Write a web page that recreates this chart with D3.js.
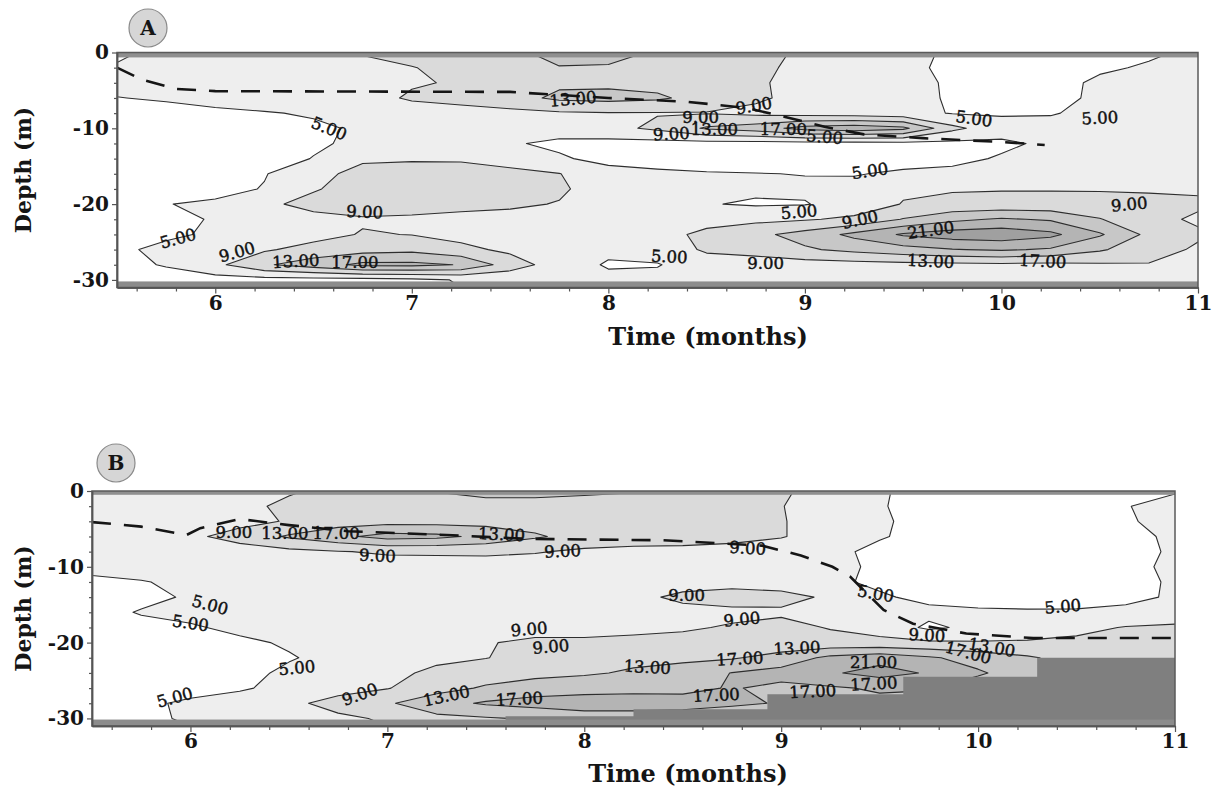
<!DOCTYPE html>
<html><head><meta charset="utf-8">
<script src="https://cdn.jsdelivr.net/npm/d3@7"></script>
<style>
body{margin:0;background:#fff;}
svg{display:block;}
</style></head><body>
<svg id="chart" width="1218" height="789"></svg>
<script>
// ---------------- DATA ----------------
const gridTimes = [5.5,5.75,6,6.25,6.5,6.75,7,7.25,7.5,7.75,8,8.25,8.5,8.75,9,9.25,9.5,9.75,10,10.25,10.5,10.75,11];
const gridDepths = [0,-2,-4,-6,-8,-10,-12,-14,-16,-18,-20,-22,-24,-26,-28,-30];
const levels = [5,9,13,17,21];

const timeTicks = [6,7,8,9,10,11];
const timeTickLabels = ["6","7","8","9","10","11"];
const depthTicks = [0,-10,-20,-30];
const depthTickLabels = ["0","-10","-20","-30"];

// Panel A value grid (rows = depths, columns = times)
const valuesA = [
 [4.0,6.5,7.0,7.5,8.0,9.2,10.0,10.5,12.0,14.5,14.5,12.5,11.0,10.0,8.5,7.0,6.0,4.5,3.5,3.5,4.0,4.6,5.5],
 [5.5,6.5,7.0,7.5,7.8,8.2,8.9,9.8,11.0,12.8,12.6,11.5,10.5,9.6,8.3,7.0,5.8,4.3,3.5,3.6,4.6,5.3,6.0],
 [6.2,6.6,7.0,7.4,7.7,8.2,8.7,9.3,10.8,12.3,12.2,11.8,11.0,9.4,8.0,7.0,6.0,4.6,3.8,4.0,5.5,6.2,6.5],
 [4.9,5.4,6.0,6.5,7.0,7.8,9.4,10.2,11.5,13.8,14.2,13.6,11.5,9.6,7.8,7.0,6.2,4.6,4.0,4.2,5.5,6.0,6.3],
 [3.8,3.8,4.4,4.8,5.3,6.2,7.4,7.6,8.0,8.5,8.8,8.8,8.8,8.0,7.2,6.8,6.2,4.8,4.6,4.8,5.8,6.0,6.2],
 [3.0,3.0,3.2,3.6,4.5,5.4,6.2,6.5,6.5,6.8,7.8,9.8,13.5,15.0,18.5,19.5,18.0,10.0,6.5,6.0,6.0,6.2,6.3],
 [3.0,3.0,3.0,3.5,4.6,5.6,6.2,6.0,5.4,4.2,3.8,3.6,3.5,3.5,3.5,3.6,3.8,4.0,4.4,5.6,6.0,6.2,6.3],
 [3.0,3.0,3.2,3.8,5.1,8.3,8.5,8.5,7.5,5.5,3.8,3.2,3.0,3.0,3.2,3.5,3.8,4.2,5.3,6.0,6.2,6.3,6.5],
 [3.0,3.0,3.5,4.8,7.5,10.5,11.0,10.8,10.0,9.1,6.5,5.8,5.3,5.1,4.9,4.8,5.5,5.8,6.0,6.2,6.3,6.4,6.5],
 [3.0,3.2,3.8,5.2,8.6,11.0,11.5,11.2,10.5,9.6,7.0,6.2,5.8,5.6,5.6,6.0,8.4,8.7,8.8,8.8,8.8,8.7,8.6],
 [3.5,4.9,5.6,8.0,10.5,11.5,11.0,10.0,9.6,8.8,6.8,6.0,5.2,4.6,4.8,6.5,9.2,10.0,10.2,10.2,10.0,9.8,9.5],
 [3.2,4.0,5.3,6.5,7.5,8.5,8.2,8.0,7.8,7.4,7.0,6.8,7.5,8.0,8.6,9.8,13.2,16.0,17.5,16.5,13.2,10.0,8.5],
 [3.2,4.3,5.6,6.5,7.5,9.3,8.9,7.8,7.5,7.0,6.8,7.5,10.0,12.0,14.5,18.0,21.5,23.0,23.5,22.0,17.5,12.0,9.5],
 [4.2,6.0,7.0,8.5,10.5,11.5,12.0,10.0,8.2,6.5,5.8,6.5,9.6,10.5,12.5,14.0,15.5,16.8,17.5,16.5,13.5,10.5,8.5],
 [3.8,5.3,8.0,12.5,15.0,18.0,18.0,16.8,11.0,7.0,4.6,4.8,7.0,7.0,7.2,7.5,7.8,8.0,8.2,8.0,8.5,8.8,7.0],
 [3.0,3.2,3.5,3.5,3.5,3.5,4.0,5.3,6.0,6.0,6.0,6.0,6.0,6.0,5.8,5.8,5.8,5.8,5.8,5.8,5.8,5.8,5.5]
];

// Panel B value grid
const valuesB = [
 [6.5,6.8,7.0,7.5,8.6,10.0,11.5,13.1,13.8,13.8,13.5,13.2,12.0,10.8,9.5,7.5,5.3,4.0,3.5,3.5,3.8,4.2,4.8],
 [6.5,6.8,7.0,8.0,9.8,10.8,11.5,11.8,12.0,12.0,11.8,11.5,11.0,10.3,9.1,7.5,5.2,4.0,3.5,3.5,3.8,4.9,5.8],
 [6.0,6.5,7.0,7.8,9.3,11.0,11.5,11.5,11.5,11.3,11.2,11.0,10.8,10.2,9.2,7.5,5.4,4.0,3.4,3.4,3.6,4.8,5.6],
 [6.2,6.8,8.2,10.5,13.5,16.0,18.5,18.0,16.0,13.5,11.5,10.8,10.5,10.0,9.2,7.5,5.2,4.2,3.4,3.4,3.5,4.2,5.5],
 [6.0,6.2,6.5,7.2,8.0,8.8,9.5,9.6,9.8,9.3,8.3,8.0,8.0,7.8,7.2,5.6,4.4,3.8,3.3,3.3,3.4,4.0,5.4],
 [5.4,5.8,6.2,6.5,6.8,7.0,7.2,7.2,7.0,6.8,6.6,6.6,6.8,7.0,6.6,5.8,4.5,3.5,3.2,3.2,3.3,4.2,5.6],
 [4.7,4.9,5.4,6.2,6.5,6.7,6.8,6.8,6.8,6.8,7.0,7.2,7.5,7.8,7.5,5.8,4.2,3.5,3.2,3.3,3.4,4.0,5.4],
 [3.8,4.3,5.3,6.0,6.3,6.5,6.6,6.7,6.8,7.0,7.3,8.0,9.8,10.5,10.0,8.5,5.5,4.0,3.5,3.5,3.6,4.2,5.4],
 [4.0,5.2,5.8,6.2,6.5,6.6,6.6,6.6,6.7,6.8,7.0,7.3,7.8,8.2,8.5,7.0,6.5,6.0,5.6,5.4,5.4,5.8,6.2],
 [3.6,4.2,4.7,5.6,6.0,6.2,6.4,6.6,7.2,7.8,8.2,8.4,8.6,9.3,10.0,8.8,7.5,4.3,6.0,6.5,8.0,9.2,9.8],
 [3.5,3.8,4.0,4.5,5.3,6.0,6.4,7.0,8.8,9.6,9.4,9.6,10.0,10.3,10.5,10.2,10.0,9.6,9.3,9.5,9.8,10.5,11.0],
 [3.5,3.6,3.8,4.0,4.8,5.8,7.0,8.2,8.9,10.2,11.0,12.0,12.0,12.6,14.5,18.0,19.5,17.5,15.5,13.5,11.5,11.0,11.0],
 [3.5,3.6,3.8,4.2,5.5,6.5,8.0,9.8,11.0,11.8,12.5,13.5,15.0,17.1,18.5,20.5,22.5,20.6,17.5,15.0,12.0,12.0,12.0],
 [3.3,3.5,3.8,4.6,6.0,7.5,8.8,11.5,13.5,15.0,15.5,15.8,16.0,17.3,16.0,16.5,17.5,17.2,15.0,14.0,12.0,12.0,12.0],
 [3.2,4.3,5.6,6.5,8.0,10.5,12.5,15.5,17.5,18.5,19.0,19.0,18.5,17.5,16.8,16.0,16.0,16.0,16.0,16.0,16.0,16.0,16.0],
 [3.0,4.5,5.3,6.0,7.0,8.2,9.5,12.0,12.6,13.5,15.0,15.0,15.0,15.0,15.0,15.0,15.0,15.0,15.0,15.0,15.0,15.0,15.0]
];

// dashed lines (time, depth)
const dashATime  = [5.5,5.63,5.8,6.0,7.5,8.0,8.4,8.7,8.9,9.1,9.3,9.6,10.0,10.22];
const dashADepth = [-2.0,-3.6,-4.8,-5.1,-5.2,-6.0,-6.5,-7.3,-8.5,-9.8,-10.8,-11.3,-11.8,-12.2];
const dashBTime  = [5.5,5.75,5.98,6.05,6.25,6.5,6.8,7.3,7.7,8.4,8.9,9.1,9.26,9.35,9.52,9.67,9.94,10.28,11.0];
const dashBDepth = [-4.1,-4.7,-5.8,-4.9,-3.7,-4.5,-5.3,-5.8,-6.3,-6.5,-7.2,-8.5,-10.0,-11.3,-15.7,-17.5,-18.8,-19.4,-19.4];

// bottom (no data) profile of panel B
const bottomBTime  = [5.5,7.6,8.25,8.93,9.62,10.3,11.0];
const bottomBDepth = [-30.2,-29.7,-28.8,-26.8,-24.5,-22.0,-22.0];

// contour labels
const labelsAText  = ["5.00","5.00","9.00","13.00","17.00","9.00","13.00","9.00","9.00","9.00","13.00","17.00","5.00","5.00","5.00","5.00","5.00","9.00","21.00","9.00","13.00","17.00","9.00","5.00"];
const labelsATime  = [6.58,5.81,6.11,6.41,6.71,6.76,7.82,8.74,8.47,8.32,8.54,8.89,9.1,9.86,10.5,9.33,8.97,9.28,9.64,10.65,9.64,10.21,8.8,8.31];
const labelsADepth = [-10.0,-24.5,-26.3,-27.5,-27.6,-21.0,-6.1,-7.0,-8.5,-10.7,-10.1,-10.1,-11.1,-8.7,-8.6,-15.6,-21.0,-22.0,-23.4,-20.0,-27.5,-27.5,-27.8,-26.9];
const labelsAAngle = [22,-15,-15,-3,0,3,-5,-10,0,-3,0,0,5,8,-3,-8,-5,-12,-8,-5,3,3,0,3];

const labelsBText  = ["9.00","13.00","17.00","9.00","13.00","9.00","9.00","9.00","9.00","9.00","9.00","13.00","17.00","13.00","13.00","17.00","17.00","9.00","5.00","5.00","5.00","5.00","5.00","5.00","9.00","13.00","17.00","21.00","17.00","17.00"];
const labelsBTime  = [6.22,6.48,6.74,6.95,7.58,7.89,8.83,8.52,8.8,7.72,7.83,8.32,8.79,9.08,7.3,7.67,8.67,6.86,6.1,6.0,6.54,5.92,9.48,10.43,9.74,10.07,9.95,9.47,9.47,9.16];
const labelsBDepth = [-5.4,-5.5,-5.5,-8.5,-5.7,-7.9,-7.5,-13.7,-16.9,-18.2,-20.5,-23.2,-22.1,-20.7,-27.0,-27.4,-26.9,-26.8,-15.0,-17.4,-23.3,-27.2,-13.5,-15.2,-19.0,-20.6,-21.3,-22.5,-25.4,-26.4];
const labelsBAngle = [0,0,0,3,3,-3,3,0,-5,-5,-5,3,-3,-3,-12,-3,-3,-20,15,8,-5,-15,10,-5,3,10,15,0,-3,-3];

// ---------------- STYLE ----------------
const levelFills = ["#eeeeee","#dadada","#c7c7c7","#b4b4b4","#a0a0a0"];
const serif = "'DejaVu Serif', 'Liberation Serif', serif";

const svg = d3.select("#chart");
const defs = svg.append("defs");

function drawPanel(o) {
  const x = d3.scaleLinear().domain([5.5, 11]).range([o.left, o.right]);
  const y = d3.scaleLinear().domain([0, -31]).range([o.top, o.bottom]);
  const g = svg.append("g");

  defs.append("clipPath").attr("id", "clip" + o.id)
    .append("rect").attr("x", o.left).attr("y", o.top)
    .attr("width", o.right - o.left).attr("height", o.bottom - o.top);

  const plot = g.append("g").attr("clip-path", `url(#clip${o.id})`);
  plot.append("rect").attr("x", o.left).attr("y", o.top)
    .attr("width", o.right - o.left).attr("height", o.bottom - o.top).attr("fill", "#ffffff");

  // grid index -> data coordinates (samples sit at cell centres)
  const idxT = d3.scaleLinear().domain(gridTimes.map((_, i) => i + 0.5)).range(gridTimes);
  const idxD = d3.scaleLinear().domain(gridDepths.map((_, i) => i + 0.5)).range(gridDepths);
  const path = d3.geoPath(d3.geoTransform({
    point(px, py) { this.stream.point(x(idxT(px)), y(idxD(py))); }
  }));
  const cs = d3.contours().size([gridTimes.length, gridDepths.length])
    .thresholds(levels)(o.values.flat());

  plot.selectAll("path.cf").data(cs).join("path").attr("class", "cf")
    .attr("d", path).attr("fill", (d, i) => levelFills[i]).attr("stroke", "none");
  plot.selectAll("path.cl").data(cs).join("path").attr("class", "cl")
    .attr("d", path).attr("fill", "none").attr("stroke", "#2e2e2e").attr("stroke-width", 1.1)
    .attr("stroke-linejoin", "round");

  // bottom (no-data) area
  if (o.botT) {
    const pts = o.botT.map((t, i) => [t, o.botD[i]]);
    plot.append("path").datum(pts)
      .attr("d", d3.area().x(d => x(d[0])).y0(y(-31)).y1(d => y(d[1])).curve(d3.curveStepAfter))
      .attr("fill", "#7f7f7f");
  }
  // top / bottom bands
  plot.append("rect").attr("x", o.left).attr("y", y(0)).attr("width", o.right - o.left)
    .attr("height", y(o.topBand) - y(0)).attr("fill", "#8f8f8f");
  plot.append("rect").attr("x", o.left).attr("y", y(o.botBand)).attr("width", o.right - o.left)
    .attr("height", y(-31) - y(o.botBand)).attr("fill", "#8c8c8c");

  // dashed line
  const dpts = o.dashT.map((t, i) => [t, o.dashD[i]]);
  plot.append("path").datum(dpts)
    .attr("d", d3.line().x(d => x(d[0])).y(d => y(d[1])))
    .attr("fill", "none").attr("stroke", "#151515").attr("stroke-width", 2.6)
    .attr("stroke-dasharray", "19,13");

  // contour labels
  const labs = o.labText.map((t, i) => ({ t, time: o.labT[i], depth: o.labD[i], a: o.labA[i] }));
  plot.append("g").selectAll("text").data(labs).join("text")
    .attr("transform", d => `translate(${x(d.time)},${y(d.depth)}) rotate(${d.a})`)
    .attr("text-anchor", "middle").attr("dy", "0.36em")
    .attr("font-family", serif).attr("font-size", 16.5).attr("fill", "#111")
    .attr("stroke", "#111").attr("stroke-width", 0.45)
    .text(d => d.t);

  // frame
  g.append("rect").attr("x", o.left).attr("y", o.top)
    .attr("width", o.right - o.left).attr("height", o.bottom - o.top)
    .attr("fill", "none").attr("stroke", "#5a5a5a").attr("stroke-width", 1.5);

  // axes
  const minorT = d3.range(5.6, 11.0, 0.2).filter(v => Math.abs(v - Math.round(v)) > 0.05);
  const minorD = d3.range(-2, -31, -2).filter(v => v % 10 !== 0);

  g.append("g").attr("transform", `translate(0,${o.bottom})`)
    .call(d3.axisBottom(x).tickValues(timeTicks).tickFormat((d, i) => timeTickLabels[i])
      .tickSize(6).tickSizeOuter(0).tickPadding(o.xPad));
  g.append("g").attr("transform", `translate(0,${o.bottom})`)
    .call(d3.axisBottom(x).tickValues(minorT).tickFormat("").tickSize(4).tickSizeOuter(0));
  g.append("g").attr("transform", `translate(${o.left},0)`)
    .call(d3.axisLeft(y).tickValues(depthTicks).tickFormat((d, i) => depthTickLabels[i])
      .tickSize(5).tickSizeOuter(0).tickPadding(3));
  g.append("g").attr("transform", `translate(${o.left},0)`)
    .call(d3.axisLeft(y).tickValues(minorD).tickFormat("").tickSize(3).tickSizeOuter(0));

  g.selectAll(".domain").attr("stroke", "#555").attr("stroke-width", 1.5);
  g.selectAll(".tick line").attr("stroke", "#555").attr("stroke-width", 1.2);
  g.selectAll(".tick text").attr("font-family", serif).attr("font-weight", "bold")
    .attr("font-size", 20).attr("fill", "#151515");

  // axis titles
  g.append("text").attr("x", o.titleX).attr("y", o.titleY).attr("text-anchor", "middle")
    .attr("font-family", serif).attr("font-weight", "bold").attr("font-size", 24)
    .attr("fill", "#151515").text("Time (months)");
  g.append("text").attr("transform", `translate(31,${(o.top + o.bottom) / 2}) rotate(-90)`)
    .attr("text-anchor", "middle")
    .attr("font-family", serif).attr("font-weight", "bold").attr("font-size", 22)
    .attr("fill", "#151515").text("Depth (m)");

  // panel letter
  g.append("circle").attr("cx", o.letterX).attr("cy", o.letterY).attr("r", 19)
    .attr("fill", "#d6d6d6").attr("stroke", "#8a8a8a").attr("stroke-width", 1.2);
  g.append("text").attr("x", o.letterX).attr("y", o.letterY).attr("dy", "0.36em")
    .attr("text-anchor", "middle").attr("font-family", serif).attr("font-weight", "bold")
    .attr("font-size", 20).attr("fill", "#151515").text(o.letter);
}

drawPanel({
  id: "A", values: valuesA, left: 117, right: 1198, top: 52.5, bottom: 287.5,
  topBand: -0.65, botBand: -30.2,
  dashT: dashATime, dashD: dashADepth,
  labText: labelsAText, labT: labelsATime, labD: labelsADepth, labA: labelsAAngle,
  xPad: 2, titleX: 708, titleY: 345, letter: "A", letterX: 148, letterY: 28
});
drawPanel({
  id: "B", values: valuesB, left: 92, right: 1175, top: 491, bottom: 726,
  topBand: -0.5, botBand: -30.15,
  botT: bottomBTime, botD: bottomBDepth,
  dashT: dashBTime, dashD: dashBDepth,
  labText: labelsBText, labT: labelsBTime, labD: labelsBDepth, labA: labelsBAngle,
  xPad: 2, titleX: 688, titleY: 782, letter: "B", letterX: 116, letterY: 463
});
</script>
</body></html>
